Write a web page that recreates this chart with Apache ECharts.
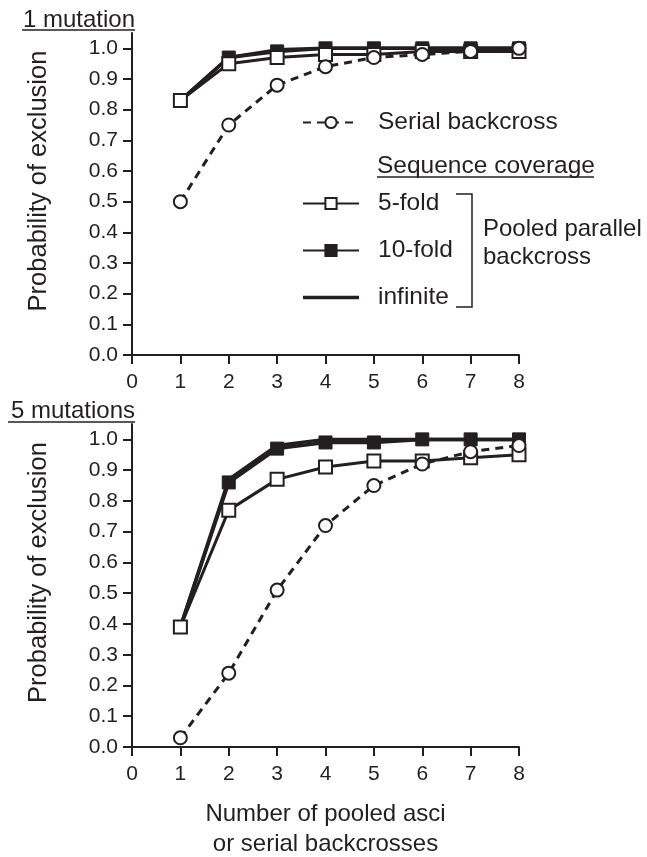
<!DOCTYPE html>
<html>
<head>
<meta charset="utf-8">
<script src="https://cdn.jsdelivr.net/npm/echarts@6/dist/echarts.min.js"></script>
<style>
  html, body { margin: 0; padding: 0; background: #fff; }
  #chart { width: 647px; height: 857px; }
</style>
</head>
<body>
<div id="chart"></div>
<script>
// number of pooled asci / serial backcrosses
var backcrosses = [1, 2, 3, 4, 5, 6, 7, 8]
var yTicks = [0, 0.1, 0.2, 0.3, 0.4, 0.5, 0.6, 0.7, 0.8, 0.9, 1.0]

// 1 mutation
var serialOne = [0.50, 0.75, 0.88, 0.94, 0.97, 0.98, 0.99, 1.00]
var fiveFoldOne = [0.83, 0.95, 0.97, 0.98, 0.98, 0.99, 0.99, 0.99]
var tenFoldOne = [0.83, 0.97, 0.99, 1.00, 1.00, 1.00, 1.00, 1.00]
var infiniteOne = [0.83, 0.97, 0.995, 1.00, 1.00, 1.00, 1.00, 1.00]

// 5 mutations
var serialFive = [0.03, 0.24, 0.51, 0.72, 0.85, 0.92, 0.96, 0.98]
var fiveFoldFive = [0.39, 0.77, 0.87, 0.91, 0.93, 0.93, 0.94, 0.95]
var tenFoldFive = [0.39, 0.86, 0.97, 0.99, 0.99, 1.00, 1.00, 1.00]
var infiniteFive = [0.39, 0.87, 0.98, 1.00, 1.00, 1.00, 1.00, 1.00]

var ink = '#231f20'
var font = '"Liberation Sans", Arial, Helvetica, sans-serif'

function pairs (values) {
  return backcrosses.map(function (x, i) { return [x, values[i]] })
}

function xAxisFor (index, withName) {
  return {
    type: 'value',
    gridIndex: index,
    min: 0,
    max: 8,
    interval: 1,
    name: withName ? 'Number of pooled asci\nor serial backcrosses' : '',
    nameLocation: 'middle',
    nameGap: 52,
    nameTextStyle: { color: ink, fontSize: 24, lineHeight: 30, fontFamily: font, verticalAlign: 'top' },
    axisLine: { lineStyle: { color: ink, width: 2 } },
    axisTick: { length: 9, lineStyle: { color: ink, width: 2 } },
    axisLabel: { color: ink, fontSize: 21, margin: 17, fontFamily: font },
    splitLine: { show: false }
  }
}

function yAxisFor (index) {
  return {
    type: 'value',
    gridIndex: index,
    min: 0,
    max: 1.05,
    name: 'Probability of exclusion',
    nameLocation: 'middle',
    nameGap: 80,
    nameTextStyle: { color: ink, fontSize: 25.5, fontFamily: font, padding: [0, 0, 0, 26] },
    axisLine: { lineStyle: { color: ink, width: 2 } },
    axisTick: { length: 9, customValues: yTicks, lineStyle: { color: ink, width: 2 } },
    axisLabel: {
      color: ink,
      fontSize: 21,
      margin: 14,
      fontFamily: font,
      customValues: yTicks,
      formatter: function (v) { return v.toFixed(1) }
    },
    splitLine: { show: false }
  }
}

function seriesFor (index, serial, fiveFold, tenFold, infinite) {
  return [
    {
      name: 'infinite',
      type: 'line',
      xAxisIndex: index,
      yAxisIndex: index,
      symbol: 'none',
      lineStyle: { color: ink, width: 3.5 },
      itemStyle: { color: ink },
      data: pairs(infinite)
    },
    {
      name: '10-fold',
      type: 'line',
      xAxisIndex: index,
      yAxisIndex: index,
      symbol: 'rect',
      symbolSize: 13,
      lineStyle: { color: ink, width: 3.5 },
      itemStyle: { color: ink, borderColor: ink, borderWidth: 1 },
      data: pairs(tenFold)
    },
    {
      name: '5-fold',
      type: 'line',
      xAxisIndex: index,
      yAxisIndex: index,
      symbol: 'rect',
      symbolSize: 13,
      lineStyle: { color: ink, width: 3 },
      itemStyle: { color: '#fff', borderColor: ink, borderWidth: 2 },
      data: pairs(fiveFold)
    },
    {
      name: 'Serial backcross',
      type: 'line',
      xAxisIndex: index,
      yAxisIndex: index,
      symbol: 'circle',
      symbolSize: 13,
      lineStyle: { color: ink, width: 3, type: [8, 6] },
      itemStyle: { color: '#fff', borderColor: ink, borderWidth: 2 },
      data: pairs(serial)
    }
  ]
}

function initChart () {
  var chart = echarts.init(document.getElementById('chart'), null, { renderer: 'canvas' })
  var legendText = { color: ink, fontSize: 24.5, fontFamily: font, padding: [0, 0, 0, 14] }
  var titleText = { color: ink, fontSize: 24, fontWeight: 'normal', fontFamily: font }

  chart.setOption({
    animation: false,
    backgroundColor: '#fff',
    textStyle: { fontFamily: font },
    title: [
      { text: '1 mutation', right: 512, top: 8, padding: 0, textStyle: titleText },
      { text: '5 mutations', right: 512, top: 399, padding: 0, textStyle: titleText }
    ],
    legend: [
      {
        data: ['Serial backcross'],
        left: 302,
        top: 110,
        padding: 0,
        itemWidth: 56,
        itemHeight: 14,
        selectedMode: false,
        textStyle: legendText
      },
      {
        data: ['5-fold', '10-fold', { name: 'infinite', icon: 'path://M0,0L56,0L56,3.5L0,3.5Z' }],
        orient: 'vertical',
        left: 302,
        top: 191,
        padding: 0,
        itemGap: 22,
        itemWidth: 56,
        itemHeight: 14,
        selectedMode: false,
        textStyle: legendText
      }
    ],
    grid: [
      { left: 132, right: 128, top: 33, height: 322, outerBoundsMode: 'none' },
      { left: 132, right: 128, top: 424, height: 323, outerBoundsMode: 'none' }
    ],
    xAxis: [xAxisFor(0, false), xAxisFor(1, true)],
    yAxis: [yAxisFor(0), yAxisFor(1)],
    series: seriesFor(0, serialOne, fiveFoldOne, tenFoldOne, infiniteOne)
      .concat(seriesFor(1, serialFive, fiveFoldFive, tenFoldFive, infiniteFive)),
    graphic: [
      // underlines under the panel titles
      { type: 'line', shape: { x1: 22, y1: 30, x2: 135, y2: 30 }, style: { stroke: ink, lineWidth: 1.5 } },
      { type: 'line', shape: { x1: 8, y1: 422, x2: 135, y2: 422 }, style: { stroke: ink, lineWidth: 1.5 } },
      // legend heading
      { type: 'text', x: 377, y: 166, style: { text: 'Sequence coverage', fill: ink, font: '24.5px ' + font, verticalAlign: 'middle' } },
      { type: 'line', shape: { x1: 377, y1: 177, x2: 594, y2: 177 }, style: { stroke: ink, lineWidth: 1.5 } },
      // bracket grouping the coverage entries
      { type: 'polyline', shape: { points: [[456, 194], [472, 194], [472, 307], [456, 307]] }, style: { stroke: ink, lineWidth: 1.5, fill: null } },
      { type: 'text', x: 483, y: 215, style: { text: 'Pooled parallel\nbackcross', fill: ink, font: '24px ' + font, lineHeight: 28, verticalAlign: 'top' } }
    ]
  })
  return chart
}

initChart()
</script>
</body>
</html>
